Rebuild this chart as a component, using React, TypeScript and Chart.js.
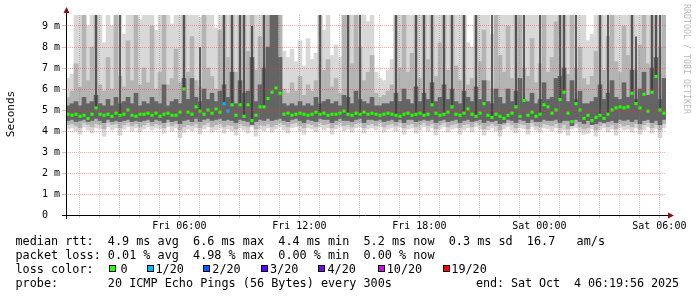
import React, { useEffect, useRef } from 'react';
import { Chart, registerables } from 'chart.js';

Chart.register(...registerables);

// ---- time axis (hours since Fri 00:00) ----
const START_H = 1 / 3; // Fri 00:20
const END_H = 30 + 1 / 3; // Sat 06:20
const STEP_H = 0.2; // one sample column = 12 minutes

const xTickHours = [6, 12, 18, 24, 30];
const xTickLabels = ['Fri 06:00', 'Fri 12:00', 'Fri 18:00', 'Sat 00:00', 'Sat 06:00'];
const yTickValues = [0, 1, 2, 3, 4, 5, 6, 7, 8, 9];
const yTickLabels = ['0  ', '1 m', '2 m', '3 m', '4 m', '5 m', '6 m', '7 m', '8 m', '9 m'];
const Y_MAX = 200 / 21;

// ---- median rtt (ms) ----
const med = [
  4.80, 4.75, 4.80, 4.70, 4.75, 4.60, 4.80, 5.10, 4.80, 4.75,
  4.80, 4.70, 4.85, 4.75, 4.80, 5.00, 4.75, 4.70, 4.80, 4.80,
  4.85, 4.75, 4.85, 4.70, 4.80, 4.85, 4.75, 4.75, 4.90, 6.00,
  4.90, 4.80, 5.15, 4.95, 4.80, 5.00, 4.85, 5.05, 4.90, 5.30,
  4.95, 5.25, 4.75, 5.25, 4.70, 5.25, 4.50, 4.75, 5.15, 5.15,
  5.55, 5.85, 6.05, 5.80, 4.80, 4.85, 4.75, 4.80, 4.85, 4.80,
  4.75, 4.80, 4.90, 4.80, 4.85, 4.75, 4.80, 4.80, 4.85, 4.95,
  4.80, 4.75, 4.85, 4.80, 4.90, 4.80, 4.85, 4.80, 4.75, 4.80,
  4.85, 4.80, 4.75, 4.70, 4.80, 4.85, 4.75, 4.80, 4.85, 4.75,
  4.80, 5.25, 4.85, 4.75, 4.80, 4.90, 5.15, 4.80, 4.75, 4.85,
  5.05, 4.80, 4.70, 4.85, 5.30, 4.75, 4.65, 4.80, 4.70, 4.60,
  4.75, 4.85, 5.15, 4.70, 5.45, 4.75, 4.90, 4.70, 4.80, 5.25,
  5.15, 4.85, 5.00, 5.50, 5.85, 4.85, 4.45, 5.30, 5.00, 4.60,
  4.75, 4.50, 4.65, 4.75, 4.60, 4.80, 5.00, 5.10, 5.15, 5.10,
  5.15, 5.80, 5.30, 5.10, 5.75, 4.95, 5.85, 6.60, 5.00, 4.85,
];

// ---- lost pings per column (out of 20) ----
const loss = [
  0, 0, 0, 0, 0, 0, 0, 0, 0, 0, 0, 0, 0, 0, 0, 0, 0, 0, 0, 0,
  0, 0, 0, 0, 0, 0, 0, 0, 0, 0, 0, 0, 0, 0, 0, 0, 0, 0, 0, 1,
  1, 0, 0, 0, 0, 0, 0, 0, 0, 0, 0, 0, 0, 0, 0, 0, 0, 0, 0, 0,
  0, 0, 0, 0, 0, 0, 0, 0, 0, 0, 0, 0, 0, 0, 0, 0, 0, 0, 0, 0,
  0, 0, 0, 0, 0, 0, 0, 0, 0, 0, 0, 0, 0, 0, 0, 0, 0, 0, 0, 0,
  0, 0, 0, 0, 0, 0, 0, 0, 0, 0, 0, 0, 0, 0, 0, 0, 0, 0, 0, 0,
  0, 0, 0, 0, 0, 0, 0, 0, 0, 0, 0, 0, 0, 0, 0, 0, 0, 0, 0, 0,
  0, 0, 0, 0, 0, 0, 0, 0, 0, 0,
];

// ---- smoke: lightest band (min .. max ping) ----
const smokeLo = [
  4.10, 4.15, 4.00, 3.85, 4.20, 4.05, 3.90, 4.15, 4.10, 3.75,
  4.20, 4.05, 4.15, 3.80, 4.10, 4.20, 4.00, 4.15, 3.95, 4.10,
  4.20, 4.05, 4.15, 4.10, 3.90, 4.20, 4.00, 4.15, 3.70, 3.95,
  4.10, 4.00, 4.15, 3.85, 4.10, 4.20, 3.95, 4.05, 4.15, 3.90,
  4.10, 4.00, 3.80, 4.15, 4.05, 3.90, 4.20, 3.75, 4.10, 4.00,
  4.15, 3.95, 4.10, 4.20, 4.05, 3.90, 4.15, 4.20, 4.00, 3.85,
  4.15, 4.10, 3.95, 4.20, 4.05, 4.15, 3.85, 4.10, 4.20, 4.00,
  4.10, 3.95, 4.15, 4.20, 3.90, 4.10, 4.15, 4.05, 4.20, 3.95,
  4.10, 4.15, 4.00, 4.20, 3.85, 4.10, 4.15, 3.90, 4.05, 4.20,
  4.00, 4.15, 3.80, 4.10, 4.20, 3.95, 4.10, 4.15, 3.85, 4.05,
  4.15, 3.95, 4.20, 4.10, 3.80, 4.05, 4.15, 4.00, 3.75, 4.10,
  4.20, 4.05, 3.90, 4.15, 4.10, 3.85, 4.20, 4.05, 3.95, 4.15,
  4.10, 4.00, 4.15, 3.90, 4.05, 3.80, 4.10, 4.15, 3.95, 3.85,
  3.90, 4.10, 3.75, 4.05, 4.15, 3.95, 4.10, 3.80, 4.15, 4.05,
  4.10, 3.95, 4.15, 3.85, 4.05, 4.20, 3.90, 4.10, 3.70, 4.15,
];
const smokeHi = [
  6.5, 6.7, 10, 10, 10, 9.0, 10, 10, 10, 8.2,
  10, 9.0, 10, 10, 8.6, 10, 10, 10, 9.3, 10,
  10, 10, 8.8, 10, 10, 10, 9.1, 10, 10, 10,
  10, 10, 10, 9.4, 10, 10, 10, 8.9, 10, 10,
  10, 10, 10, 10, 10, 10, 10, 10, 10, 10,
  10, 10, 10, 10, 7.8, 7.5, 7.9, 7.3, 8.3, 7.1,
  8.4, 7.4, 7.7, 10, 8.8, 10, 7.6, 8.1, 7.5, 10,
  10, 10, 10, 10, 10, 9.2, 10, 6.8, 6.5, 6.4,
  6.9, 7.4, 10, 10, 10, 10, 9.5, 10, 10, 10,
  10, 10, 10, 10, 10, 10, 10, 10, 10, 10,
  8.2, 8.0, 10, 10, 10, 10, 8.6, 10, 10, 10,
  10, 10, 10, 10, 10, 10, 10, 10, 10, 10,
  10, 10, 10, 10, 10, 10, 10, 10, 10, 10,
  8.3, 8.6, 10, 10, 10, 10, 10, 10, 10, 10,
  10, 10, 10, 10, 9.0, 10, 10, 10, 10, 10,
];

// ---- smoke: middle band ----
const midLo = [
  4.30, 4.35, 4.25, 4.15, 4.40, 4.30, 4.20, 4.35, 4.30, 4.10,
  4.40, 4.30, 4.35, 4.15, 4.30, 4.40, 4.25, 4.35, 4.20, 4.30,
  4.40, 4.25, 4.35, 4.30, 4.15, 4.40, 4.25, 4.35, 4.05, 4.20,
  4.30, 4.25, 4.35, 4.15, 4.30, 4.40, 4.20, 4.30, 4.35, 4.20,
  4.30, 4.25, 4.10, 4.35, 4.25, 4.20, 4.40, 4.10, 4.30, 4.25,
  4.35, 4.20, 4.30, 4.40, 4.30, 4.20, 4.35, 4.40, 4.25, 4.15,
  4.35, 4.30, 4.20, 4.40, 4.30, 4.35, 4.15, 4.30, 4.40, 4.25,
  4.30, 4.20, 4.35, 4.40, 4.15, 4.30, 4.35, 4.25, 4.40, 4.20,
  4.30, 4.35, 4.25, 4.40, 4.15, 4.30, 4.35, 4.20, 4.30, 4.40,
  4.25, 4.35, 4.10, 4.30, 4.40, 4.20, 4.30, 4.35, 4.15, 4.30,
  4.35, 4.20, 4.40, 4.30, 4.10, 4.25, 4.35, 4.25, 4.05, 4.30,
  4.40, 4.30, 4.15, 4.35, 4.30, 4.10, 4.40, 4.25, 4.20, 4.35,
  4.30, 4.25, 4.35, 4.15, 4.30, 4.10, 4.30, 4.35, 4.20, 4.10,
  4.15, 4.30, 4.05, 4.25, 4.35, 4.20, 4.30, 4.10, 4.35, 4.25,
  4.30, 4.20, 4.35, 4.10, 4.30, 4.40, 4.15, 4.30, 4.05, 4.35,
];
const midHi = [
  5.6, 5.9, 7.2, 6.1, 10, 6.4, 8.0, 10, 6.2, 5.9,
  7.5, 6.0, 10, 6.6, 6.1, 8.3, 6.4, 10, 6.2, 7.0,
  6.3, 9.0, 6.0, 6.8, 10, 6.2, 6.5, 7.9, 6.3, 10,
  6.8, 8.5, 6.4, 6.1, 10, 7.0, 6.6, 6.0, 8.8, 10,
  7.5, 10, 6.8, 10, 10, 7.8, 10, 6.9, 8.5, 10,
  10, 10, 10, 10, 6.0, 5.8, 6.3, 5.9, 6.6, 5.7,
  6.2, 5.9, 6.4, 10, 6.9, 7.4, 6.1, 6.5, 5.8, 10,
  10, 7.2, 10, 8.0, 6.4, 6.8, 7.6, 5.8, 5.6, 5.7,
  5.9, 6.2, 10, 7.0, 10, 6.8, 7.7, 10, 6.5, 10,
  7.4, 10, 6.6, 8.2, 10, 6.9, 10, 7.1, 6.4, 10,
  6.2, 6.5, 10, 7.3, 8.8, 6.4, 6.0, 10, 7.6, 6.8,
  9.0, 6.5, 10, 10, 7.0, 6.6, 8.4, 6.3, 7.2, 10,
  6.8, 7.5, 9.2, 10, 10, 6.7, 10, 7.0, 8.0, 6.5,
  6.2, 6.6, 7.8, 10, 6.9, 8.5, 10, 7.3, 6.8, 9.0,
  7.6, 10, 6.9, 8.1, 10, 7.2, 10, 10, 8.0, 10,
];

// ---- smoke: dark core around the median ----
const coreLo = [
  4.50, 4.55, 4.45, 4.50, 4.55, 4.45, 4.50, 4.60, 4.50, 4.40,
  4.55, 4.45, 4.50, 4.45, 4.50, 4.55, 4.45, 4.50, 4.45, 4.50,
  4.55, 4.45, 4.55, 4.50, 4.40, 4.55, 4.45, 4.50, 4.35, 4.50,
  4.55, 4.45, 4.60, 4.45, 4.55, 4.60, 4.50, 4.55, 4.60, 4.50,
  4.55, 4.50, 4.40, 4.55, 4.50, 4.45, 4.30, 4.45, 4.55, 4.50,
  4.60, 4.50, 4.55, 4.60, 4.50, 4.45, 4.55, 4.60, 4.50, 4.40,
  4.55, 4.50, 4.45, 4.60, 4.55, 4.55, 4.40, 4.50, 4.60, 4.50,
  4.50, 4.45, 4.55, 4.60, 4.40, 4.55, 4.55, 4.50, 4.55, 4.45,
  4.50, 4.55, 4.45, 4.55, 4.40, 4.55, 4.55, 4.45, 4.50, 4.55,
  4.50, 4.55, 4.40, 4.50, 4.55, 4.45, 4.50, 4.55, 4.40, 4.50,
  4.55, 4.45, 4.50, 4.55, 4.40, 4.50, 4.45, 4.50, 4.35, 4.40,
  4.55, 4.50, 4.40, 4.55, 4.50, 4.40, 4.55, 4.45, 4.45, 4.55,
  4.50, 4.50, 4.55, 4.40, 4.50, 4.50, 4.25, 4.55, 4.45, 4.35,
  4.50, 4.30, 4.35, 4.45, 4.40, 4.45, 4.50, 4.40, 4.55, 4.50,
  4.55, 4.45, 4.55, 4.35, 4.50, 4.55, 4.40, 4.50, 4.30, 4.55,
];
const coreHi = [
  5.2, 5.3, 5.4, 5.2, 5.6, 5.3, 5.4, 5.7, 5.3, 5.2,
  5.5, 5.2, 5.6, 5.3, 5.4, 5.6, 5.3, 5.8, 5.2, 5.4,
  5.3, 5.6, 5.4, 5.3, 6.2, 5.2, 5.4, 5.5, 5.3, 6.5,
  5.5, 6.5, 5.6, 5.4, 6.0, 5.5, 5.8, 5.4, 5.9, 6.2,
  5.6, 6.8, 5.3, 6.4, 5.8, 5.9, 7.5, 5.4, 6.2, 7.0,
  8.0, 10, 10, 7.5, 5.3, 5.2, 5.3, 5.2, 5.4, 5.2,
  5.3, 5.2, 5.6, 5.3, 5.4, 5.5, 5.3, 5.4, 5.2, 5.7,
  5.6, 5.3, 5.9, 5.5, 5.4, 5.3, 5.6, 5.2, 5.2, 5.3,
  5.3, 5.4, 5.8, 5.4, 6.0, 5.5, 5.3, 6.1, 5.4, 5.8,
  5.5, 6.3, 5.4, 5.6, 6.2, 5.5, 6.0, 5.4, 5.3, 5.9,
  5.6, 5.4, 6.1, 5.5, 6.4, 5.4, 5.3, 6.0, 5.6, 5.3,
  6.0, 5.4, 5.9, 6.5, 5.5, 5.4, 5.8, 5.3, 5.5, 6.3,
  5.5, 5.6, 6.5, 6.6, 7.0, 5.4, 6.4, 5.5, 5.9, 5.3,
  5.3, 5.4, 5.6, 6.2, 5.5, 5.8, 6.4, 5.6, 5.5, 6.3,
  5.6, 6.9, 5.5, 6.0, 6.8, 5.7, 7.0, 7.5, 5.5, 6.5,
];

// ---- thin dark streaks (top of streak, 0 = none) ----
const streakTop = [
  0, 0, 0, 0, 0, 0, 0, 10, 0, 0,
  0, 0, 0, 10, 0, 0, 0, 0, 0, 0,
  0, 0, 0, 0, 0, 0, 0, 0, 0, 10,
  0, 0, 0, 8.0, 0, 0, 0, 0, 0, 10,
  0, 10, 0, 10, 10, 0, 9.0, 0, 0, 10,
  0, 0, 0, 0, 0, 0, 0, 0, 0, 0,
  0, 0, 0, 10, 0, 0, 0, 0, 0, 0,
  10, 0, 0, 10, 0, 0, 0, 0, 0, 0,
  0, 0, 10, 0, 0, 0, 0, 10, 0, 10,
  0, 10, 0, 0, 10, 0, 10, 0, 0, 10,
  0, 0, 10, 0, 0, 0, 10, 0, 0, 0,
  0, 0, 10, 0, 10, 0, 0, 0, 10, 0,
  0, 0, 0, 10, 10, 0, 0, 10, 0, 0,
  0, 0, 0, 10, 0, 10, 0, 0, 0, 0,
  0, 10, 8.5, 0, 0, 0, 10, 10, 10, 0,
];

const lossLevels = ['0', '1/20', '2/20', '3/20', '4/20', '10/20', '19/20'];
const lossColors = ['#26ff00', '#00b8ff', '#0059ff', '#5e00ff', '#7e00ff', '#dd00ff', '#ff0000'];

const statsRtt = 'median rtt:  4.9 ms avg  6.6 ms max  4.4 ms min  5.2 ms now  0.3 ms sd  16.7   am/s';
const statsLoss = 'packet loss: 0.01 % avg  4.98 % max  0.00 % min  0.00 % now';
const lossColorLabel = 'loss color:';
const probeText = 'probe:       20 ICMP Echo Pings (56 Bytes) every 300s';
const endText = 'end: Sat Oct  4 06:19:56 2025';

const MONO = "'DejaVu Sans Mono', monospace";
const MAJOR = 'rgba(215, 60, 60, 0.4)';
const MINOR = 'rgba(130, 130, 130, 0.4)';

const times = med.map((_, i) => START_H + STEP_H * (i + 0.5));
const band = (a: number[], b: number[]) => times.map((t, i) => ({ x: t, y: [a[i], b[i]] }));

const axesPlugin = {
  id: 'rrdAxes',
  afterDraw(chart: any) {
    const { ctx } = chart;
    const { left, right, top, bottom } = chart.chartArea;
    ctx.save();
    ctx.strokeStyle = '#000';
    ctx.lineWidth = 1;
    ctx.setLineDash([]);
    ctx.beginPath();
    ctx.moveTo(left - 4, bottom + 0.5);
    ctx.lineTo(right + 3, bottom + 0.5);
    ctx.moveTo(left + 0.5, bottom + 4);
    ctx.lineTo(left + 0.5, top - 3);
    ctx.stroke();
    ctx.fillStyle = '#8b1010';
    ctx.beginPath();
    ctx.moveTo(right + 2, bottom - 2.5);
    ctx.lineTo(right + 8, bottom + 0.5);
    ctx.lineTo(right + 2, bottom + 3.5);
    ctx.closePath();
    ctx.fill();
    ctx.beginPath();
    ctx.moveTo(left - 2.5, top - 2);
    ctx.lineTo(left + 0.5, top - 8);
    ctx.lineTo(left + 3.5, top - 2);
    ctx.closePath();
    ctx.fill();
    ctx.restore();
  },
};

export default function App() {
  const ref = useRef<HTMLCanvasElement>(null);

  useEffect(() => {
    const barCommon = {
      type: 'bar' as const,
      grouped: false,
      barPercentage: 1,
      categoryPercentage: 1,
      borderWidth: 0,
    };
    const chart = new Chart(ref.current as HTMLCanvasElement, {
      type: 'bar',
      data: {
        datasets: [
          {
            type: 'line',
            data: times.map((t, i) => ({ x: t, y: med[i] })),
            showLine: false,
            pointStyle: 'rect',
            pointRadius: 2.2,
            pointHoverRadius: 2.2,
            pointBorderWidth: 0,
            pointBackgroundColor: (c: any) => lossColors[loss[c.dataIndex] || 0],
            order: 0,
          } as any,
          {
            ...barCommon,
            data: times.map((t, i) => ({ x: t, y: streakTop[i] ? [med[i], streakTop[i]] : null })),
            backgroundColor: '#3c3c3c',
            barPercentage: 0.4,
            order: 1,
          } as any,
          { ...barCommon, data: band(coreLo, coreHi), backgroundColor: '#646464', order: 2 } as any,
          { ...barCommon, data: band(midLo, midHi), backgroundColor: '#b4b4b4', order: 3 } as any,
          { ...barCommon, data: band(smokeLo, smokeHi), backgroundColor: '#d8d8d8', order: 4 } as any,
        ],
      },
      options: {
        animation: false,
        responsive: false,
        devicePixelRatio: 1,
        events: [],
        layout: { padding: { left: 0, right: 31, top: 15, bottom: 0 } },
        plugins: { legend: { display: false }, tooltip: { enabled: false } },
        scales: {
          x: {
            type: 'linear',
            min: START_H,
            max: END_H,
            offset: false,
            afterFit: (s: any) => { s.height = 82; },
            afterBuildTicks: (s: any) => {
              const arr = [];
              for (let h = 1; h <= 30; h++) arr.push({ value: h });
              s.ticks = arr;
            },
            grid: {
              offset: false,
              z: 1,
              color: (c: any) => (c.tick && c.tick.value % 3 === 0 ? MAJOR : MINOR),
              tickLength: 3,
              tickBorderDash: [],
            },
            border: { display: false, dash: [1, 1] },
            ticks: {
              autoSkip: false,
              maxRotation: 0,
              padding: 2,
              color: '#000',
              font: { family: MONO, size: 10 },
              callback: (v: any) => {
                const k = xTickHours.indexOf(Number(v));
                return k >= 0 ? xTickLabels[k] : '';
              },
            },
          },
          y: {
            type: 'linear',
            min: 0,
            max: Y_MAX,
            afterFit: (s: any) => { s.width = 66; },
            afterBuildTicks: (s: any) => {
              const arr = [];
              for (let k = 0; k <= 19; k++) arr.push({ value: k * 0.5 });
              s.ticks = arr;
            },
            grid: {
              z: 1,
              color: (c: any) => (c.tick && c.tick.value % 1 === 0 ? MAJOR : MINOR),
              tickLength: 4,
              tickBorderDash: [],
            },
            border: { display: false, dash: [1, 1] },
            ticks: {
              padding: 2,
              color: '#000',
              font: { family: MONO, size: 10 },
              callback: (v: any) => {
                const k = yTickValues.indexOf(Number(v));
                return k >= 0 ? yTickLabels[k] : '';
              },
            },
          },
        },
      },
      plugins: [axesPlugin],
    } as any);
    return () => chart.destroy();
  }, []);

  const legendFont = { fontFamily: MONO, fontSize: '11.8px', lineHeight: '14px', color: '#000', whiteSpace: 'pre' as const };
  const squareX = [109, 146.5, 203, 261, 318, 377.5, 442.5];
  const labelX = [120.5, 155.5, 212.3, 270, 327.5, 386.7, 451.3];

  return (
    <div style={{ position: 'absolute', left: 0, top: 0, width: 697, height: 297, background: '#fff', overflow: 'hidden' }}>
      <canvas ref={ref} width={697} height={297} style={{ position: 'absolute', left: 0, top: 0, width: 697, height: 297 }} />
      <div style={{ position: 'absolute', left: -29.3, top: 107, width: 80, height: 14, lineHeight: '14px', fontFamily: MONO, fontSize: '11px', color: '#000', textAlign: 'center', transform: 'rotate(-90deg)', whiteSpace: 'pre' }}>Seconds</div>
      <div style={{ position: 'absolute', left: 622, top: 54, width: 130, height: 10, lineHeight: '10px', fontFamily: MONO, fontSize: '8.3px', color: '#bbbbbb', textAlign: 'center', transform: 'rotate(90deg)', whiteSpace: 'pre' }}>RRDTOOL / TOBI OETIKER</div>
      <div style={{ position: 'absolute', left: 15.5, top: 234, ...legendFont }}>{statsRtt}</div>
      <div style={{ position: 'absolute', left: 15.5, top: 248, ...legendFont }}>{statsLoss}</div>
      <div style={{ position: 'absolute', left: 15.5, top: 262, ...legendFont }}>{lossColorLabel}</div>
      {lossLevels.map((lv, i) => (
        <React.Fragment key={lv}>
          <div style={{ position: 'absolute', left: squareX[i], top: 265, width: 5, height: 5, border: '1px solid #000', background: lossColors[i] }} />
          <div style={{ position: 'absolute', left: labelX[i], top: 262, ...legendFont }}>{lv}</div>
        </React.Fragment>
      ))}
      <div style={{ position: 'absolute', left: 15.5, top: 276, ...legendFont }}>{probeText}</div>
      <div style={{ position: 'absolute', left: 476, top: 276, ...legendFont, letterSpacing: '-0.1px' }}>{endText}</div>
    </div>
  );
}
